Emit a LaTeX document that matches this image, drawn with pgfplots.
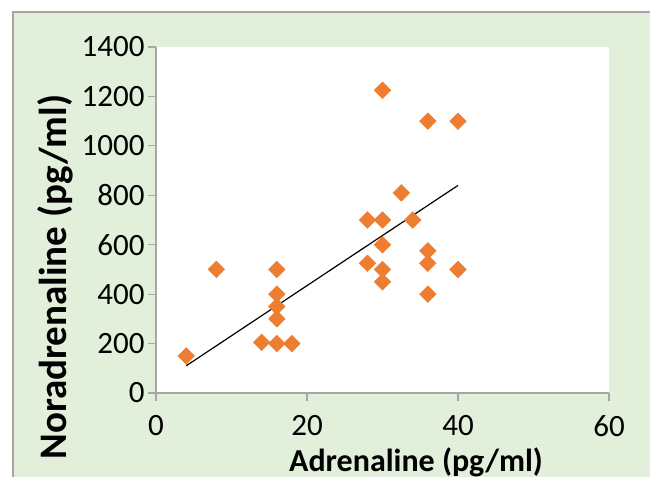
\documentclass[border=0pt]{standalone}
\usepackage{pgfplots}
\pgfplotsset{compat=1.18}
\usepackage{fontspec}
\setmainfont{Carlito}
\definecolor{bggreen}{HTML}{E2EFDA}
\definecolor{dotorange}{HTML}{ED7D31}
\definecolor{axgray}{HTML}{A6A6A6}
\newcommand{\tickfont}{\fontsize{31}{34}\selectfont}

\begin{document}
\begin{tikzpicture}
\useasboundingbox (0,0) rectangle (650pt,477pt);
\fill[white] (0,0) rectangle (650pt,477pt);
\fill[bggreen] (13pt,0) rectangle (650pt,465pt);
\draw[axgray, line width=1.2pt] (13pt,0) -- (13pt,465pt) -- (650pt,465pt);
\begin{axis}[
    at={(156pt,84pt)}, anchor=south west,
    scale only axis, width=453pt, height=346pt,
    xmin=0, xmax=60, ymin=0, ymax=1400,
    xtick={0,20,40,60}, ytick={0,200,...,1400},
    axis x line*=bottom, axis y line*=left,
    axis line style={axgray, line width=1.2pt, -},
    tick align=outside, major tick length=8pt,
    tick style={axgray, line width=1.2pt},
    axis background/.style={fill=white},
    xticklabel={\tickfont\pgfmathprintnumber[assume math mode=true,1000 sep={}]{\tick}},
    yticklabel={\tickfont\pgfmathprintnumber[assume math mode=true,1000 sep={}]{\tick}},
    yticklabel style={xshift=0pt},
    xticklabel style={yshift=-11pt},
    every axis x label/.style={at={(axis description cs:0.574,-0.2283)}, anchor=base,
        font=\bfseries\fontsize{32}{36}\selectfont},
    every axis y label/.style={at={(axis description cs:-0.1965,0.335)}, rotate=90, anchor=base,
        font=\bfseries\fontsize{39}{43}\selectfont},
    xlabel={Adrenaline (pg/ml)},
    ylabel={Noradrenaline (pg/ml)},
]
% measured points
\addplot[only marks, mark=square*, mark size=5.9pt,
    mark options={rotate=45, fill=dotorange, draw=dotorange}] coordinates {
    (4,150) (8,500) (14,205) (16,200) (18,200) (16,300) (16,350) (16,400)
    (16,500) (28,525) (28,700) (30,700) (30,600) (30,500) (30,450) (30,1225)
    (32.5,810) (34,700) (36,575) (36,525) (36,400) (36,1100) (40,1100) (40,500)
};
% linear trend
\addplot[black, line width=1.2pt] coordinates {(4,110) (40,840)};
\end{axis}
\end{tikzpicture}
\end{document}
